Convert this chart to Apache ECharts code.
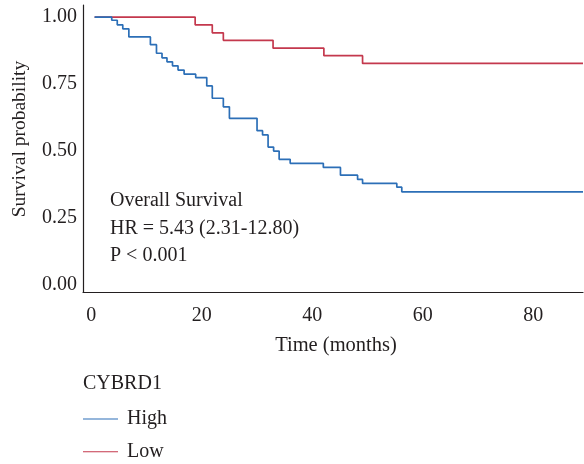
<!DOCTYPE html>
<html>
<head>
    <meta charset="UTF-8">
    <title>Overall Survival - CYBRD1</title>
    <script src="https://cdn.jsdelivr.net/npm/echarts/dist/echarts.min.js"></script>
    <style>
        html, body { margin: 0; padding: 0; background: #fff; }
        #main { width: 584px; height: 464px; }
    </style>
</head>
<body>
    <div id="main"></div>
    <script>
        // Kaplan-Meier curves (months, survival probability)
        var highTime = [0.6, 3.7, 4.7, 5.7, 6.8, 10.7, 11.8, 12.8, 13.7, 14.7, 15.7, 16.8, 18.9, 20.9, 21.9, 23.9, 25.0, 30.0, 31.0, 32.0, 33.0, 34.0, 36.0, 42.0, 45.1, 48.2, 49.1, 55.3, 56.2, 89];
        var highSurv = [1.0, 0.988, 0.971, 0.956, 0.926, 0.897, 0.865, 0.848, 0.833, 0.818, 0.802, 0.787, 0.774, 0.743, 0.697, 0.665, 0.622, 0.576, 0.560, 0.515, 0.500, 0.469, 0.454, 0.439, 0.410, 0.394, 0.379, 0.365, 0.348, 0.348];
        var lowTime = [0.6, 18.8, 21.9, 23.9, 32.9, 42.1, 49.1, 89];
        var lowSurv = [1.0, 0.971, 0.941, 0.913, 0.884, 0.856, 0.827, 0.827];

        var xTicks = [0, 20, 40, 60, 80];
        var yTicks = [0, 0.25, 0.5, 0.75, 1];

        var font = 'Liberation Serif';
        var ink = '#231f20';
        var blue = '#2c6fb7';
        var red = '#c4384d';

        function pairs(xs, ys) {
            return xs.map(function (x, i) { return [x, ys[i]]; });
        }

        var chart = echarts.init(document.getElementById('main'));

        var option = {
            animation: false,
            grid: { left: 83, right: 1, top: 5, bottom: 172 },
            xAxis: {
                type: 'value',
                min: -1.5,
                max: 89,
                splitLine: { show: false },
                axisTick: { show: false },
                axisLine: { onZero: false, lineStyle: { color: ink, width: 1.2 } },
                axisLabel: {
                    customValues: xTicks,
                    margin: 14,
                    fontFamily: font,
                    fontSize: 20,
                    color: ink
                }
            },
            yAxis: {
                type: 'value',
                min: -0.026,
                max: 1.045,
                splitLine: { show: false },
                axisTick: { show: false },
                axisLine: { show: true, onZero: false, lineStyle: { color: ink, width: 1.2 } },
                axisLabel: {
                    customValues: yTicks,
                    margin: 6,
                    padding: [4, 0, 0, 0],
                    fontFamily: font,
                    fontSize: 20,
                    color: ink,
                    formatter: function (v) { return v.toFixed(2); }
                }
            },
            legend: {
                orient: 'vertical',
                left: 83,
                top: 409,
                padding: 0,
                icon: 'rect',
                itemWidth: 35,
                itemHeight: 1,
                itemGap: 12.7,
                textStyle: {
                    fontFamily: font,
                    fontSize: 20,
                    lineHeight: 20,
                    color: ink,
                    padding: [0, 0, 0, 4]
                },
                data: ['High', 'Low']
            },
            graphic: [
                {
                    type: 'text', x: 20, y: 139, rotation: Math.PI / 2,
                    style: {
                        text: 'Survival probability', fontFamily: font, fontSize: 19.5,
                        fill: ink, align: 'center', verticalAlign: 'middle'
                    }
                },
                {
                    type: 'text', x: 336, y: 346,
                    style: {
                        text: 'Time (months)', fontFamily: font, fontSize: 20.5,
                        fill: ink, align: 'center', verticalAlign: 'middle'
                    }
                },
                {
                    type: 'text', x: 110, y: 187,
                    style: {
                        text: 'Overall Survival\nHR = 5.43 (2.31-12.80)\nP < 0.001',
                        fontFamily: font, fontSize: 20, lineHeight: 27.5,
                        fill: ink, align: 'left', verticalAlign: 'top'
                    }
                },
                {
                    type: 'text', x: 83, y: 384,
                    style: {
                        text: 'CYBRD1', fontFamily: font, fontSize: 20,
                        fill: ink, align: 'left', verticalAlign: 'middle'
                    }
                }
            ],
            series: [
                {
                    name: 'High',
                    type: 'line',
                    step: 'end',
                    symbol: 'none',
                    color: blue,
                    lineStyle: { width: 1.7, color: blue },
                    data: pairs(highTime, highSurv),
                    z: 3
                },
                {
                    name: 'Low',
                    type: 'line',
                    step: 'end',
                    symbol: 'none',
                    color: red,
                    lineStyle: { width: 1.7, color: red },
                    data: pairs(lowTime, lowSurv),
                    z: 2
                }
            ]
        };

        chart.setOption(option);
    </script>
</body>
</html>
